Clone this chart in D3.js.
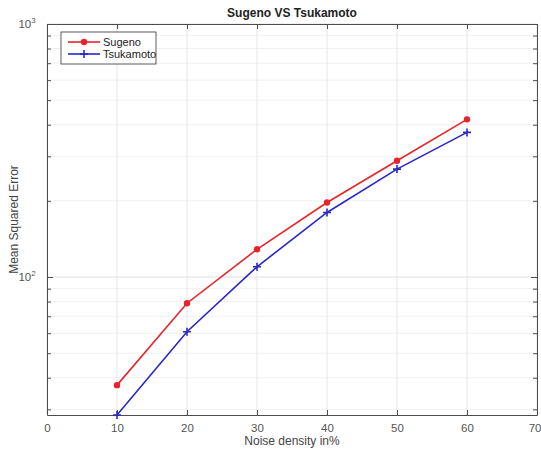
<!DOCTYPE html>
<html>
<meta charset="utf-8">
<head>
  <title>Sugeno VS Tsukamoto</title>
</head>
<style>
body { margin: 0; background: white; }
text { font-family: Arial, "Liberation Sans", Helvetica, sans-serif; }
</style>
<body>
<div id="chart"></div>
<script src="https://d3js.org/d3.v7.min.js"></script>
<script>

var noise = [10, 20, 30, 40, 50, 60];
var sugeno = [37.4, 78.8, 128.7, 197, 288, 420];
var tsukamoto = [28.5, 60.8, 109.8, 180, 267, 373];
var xTicks = [0, 10, 20, 30, 40, 50, 60, 70];

const width = 541, height = 452;
const margin = {top: 24, right: 4, bottom: 37, left: 47};

const svg = d3.select('#chart')
  .append('svg')
  .attr('width', width)
  .attr('height', height);

const x = d3.scaleLinear()
  .domain([0, 70])
  .range([margin.left, width - margin.right]);

const y = d3.scaleLog()
  .domain([28.5, 1000])
  .range([height - margin.bottom, margin.top]);

const plot = svg.append('g');

// minor + major y grid (log)
var yGrid = [];
[10, 100].forEach(function(dec) {
  for (var k = 1; k < 10; k++) {
    var v = dec * k;
    if (v >= 28.5 && v <= 1000) yGrid.push(v);
  }
});
yGrid.push(1000);

plot.selectAll('.ygrid')
  .data(yGrid)
  .enter()
  .append('line')
  .attr('x1', x(0)).attr('x2', x(70))
  .attr('y1', d => y(d)).attr('y2', d => y(d))
  .attr('stroke', d => (d === 100 || d === 1000) ? '#e0e0e0' : '#f0f0f0')
  .attr('stroke-width', 1);

plot.selectAll('.xgrid')
  .data(xTicks)
  .enter()
  .append('line')
  .attr('x1', d => x(d)).attr('x2', d => x(d))
  .attr('y1', y(28.5)).attr('y2', y(1000))
  .attr('stroke', '#e6e6e6');

// axes (ticks pointing inward, box)
const axisColor = '#4d4d4d';
const xAxis = svg.append('g')
  .attr('transform', `translate(0,${y(28.5)})`)
  .call(d3.axisBottom(x).tickValues(xTicks).tickSizeInner(-5).tickSizeOuter(0).tickPadding(9));
const xTop = svg.append('g')
  .attr('transform', `translate(0,${y(1000)})`)
  .call(d3.axisTop(x).tickValues(xTicks).tickSizeInner(-5).tickSizeOuter(0).tickFormat(''));

const yAxis = svg.append('g')
  .attr('transform', `translate(${x(0)},0)`)
  .call(d3.axisLeft(y).tickValues(yGrid).tickSizeInner(-4).tickSizeOuter(0).tickFormat(''));
const yRight = svg.append('g')
  .attr('transform', `translate(${x(70)},0)`)
  .call(d3.axisRight(y).tickValues(yGrid).tickSizeInner(-4).tickSizeOuter(0).tickFormat(''));

[xAxis, xTop, yAxis, yRight].forEach(function(a) {
  a.selectAll('path, line').attr('stroke', axisColor);
  a.selectAll('text').attr('fill', '#555').attr('font-size', 11.5).attr('font-family', 'Arial, sans-serif');
});
yAxis.selectAll('.tick line').attr('x2', d => (d === 100 || d === 1000) ? 6 : 4);
yRight.selectAll('.tick line').attr('x2', d => (d === 100 || d === 1000) ? -6 : -4);
// last label sits at the window edge; keep it inside
xAxis.selectAll('.tick text').filter(d => d === 70).attr('text-anchor', 'end').attr('dx', 4);

// y labels 10^2, 10^3
[100, 1000].forEach(function(v) {
  var t = svg.append('text')
    .attr('x', x(0) - 20)
    .attr('y', y(v) + 4)
    .attr('text-anchor', 'middle')
    .attr('fill', '#555')
    .attr('font-size', 11.5);
  t.append('tspan').text('10');
  t.append('tspan').attr('dy', -5).attr('font-size', 8).text(Math.round(Math.log10(v)));
});

// lines
const line = d3.line()
  .x((d, i) => x(noise[i]))
  .y(d => y(d));

const red = '#e8242a', blue = '#2828c8';

svg.append('path')
  .datum(sugeno)
  .attr('d', line)
  .attr('fill', 'none')
  .attr('stroke', red)
  .attr('stroke-width', 1.6);

svg.append('path')
  .datum(tsukamoto)
  .attr('d', line)
  .attr('fill', 'none')
  .attr('stroke', blue)
  .attr('stroke-width', 1.6);

svg.selectAll('.dot')
  .data(sugeno)
  .enter()
  .append('circle')
  .attr('cx', (d, i) => x(noise[i]))
  .attr('cy', d => y(d))
  .attr('r', 3.2)
  .attr('fill', red);

svg.selectAll('.plus')
  .data(tsukamoto)
  .enter()
  .append('path')
  .attr('d', (d, i) => {
    var cx = x(noise[i]), cy = y(d);
    return `M${cx - 4},${cy}H${cx + 4}M${cx},${cy - 4}V${cy + 4}`;
  })
  .attr('stroke', blue)
  .attr('stroke-width', 1.6);

// legend
const lg = svg.append('g');
lg.append('rect')
  .attr('x', 61).attr('y', 32)
  .attr('width', 95).attr('height', 32)
  .attr('fill', 'white')
  .attr('stroke', '#333')
  .attr('stroke-width', 0.8);
lg.append('line').attr('x1', 68).attr('x2', 100).attr('y1', 42).attr('y2', 42)
  .attr('stroke', red).attr('stroke-width', 1.6);
lg.append('circle').attr('cx', 84).attr('cy', 42).attr('r', 3.2).attr('fill', red);
lg.append('line').attr('x1', 68).attr('x2', 100).attr('y1', 54).attr('y2', 54)
  .attr('stroke', blue).attr('stroke-width', 1.6);
lg.append('path').attr('d', 'M80,54H88M84,50V58').attr('stroke', blue).attr('stroke-width', 1.6);
lg.append('text').attr('x', 103).attr('y', 46).attr('font-size', 11).attr('fill', '#222').text('Sugeno');
lg.append('text').attr('x', 103).attr('y', 58).attr('font-size', 11).attr('fill', '#222').text('Tsukamoto');

// title and axis labels
svg.append('text')
  .attr('x', (x(0) + x(70)) / 2)
  .attr('y', 17)
  .attr('text-anchor', 'middle')
  .attr('font-size', 12)
  .attr('font-weight', 'bold')
  .attr('fill', '#222')
  .text('Sugeno VS Tsukamoto');

svg.append('text')
  .attr('x', (x(0) + x(70)) / 2)
  .attr('y', 445)
  .attr('text-anchor', 'middle')
  .attr('font-size', 12)
  .attr('fill', '#444')
  .text('Noise density in%');

svg.append('text')
  .attr('transform', `translate(18,${(y(28.5) + y(1000)) / 2}) rotate(-90)`)
  .attr('text-anchor', 'middle')
  .attr('font-size', 12)
  .attr('fill', '#444')
  .text('Mean Squared Error');

</script>
</body>
</html>
